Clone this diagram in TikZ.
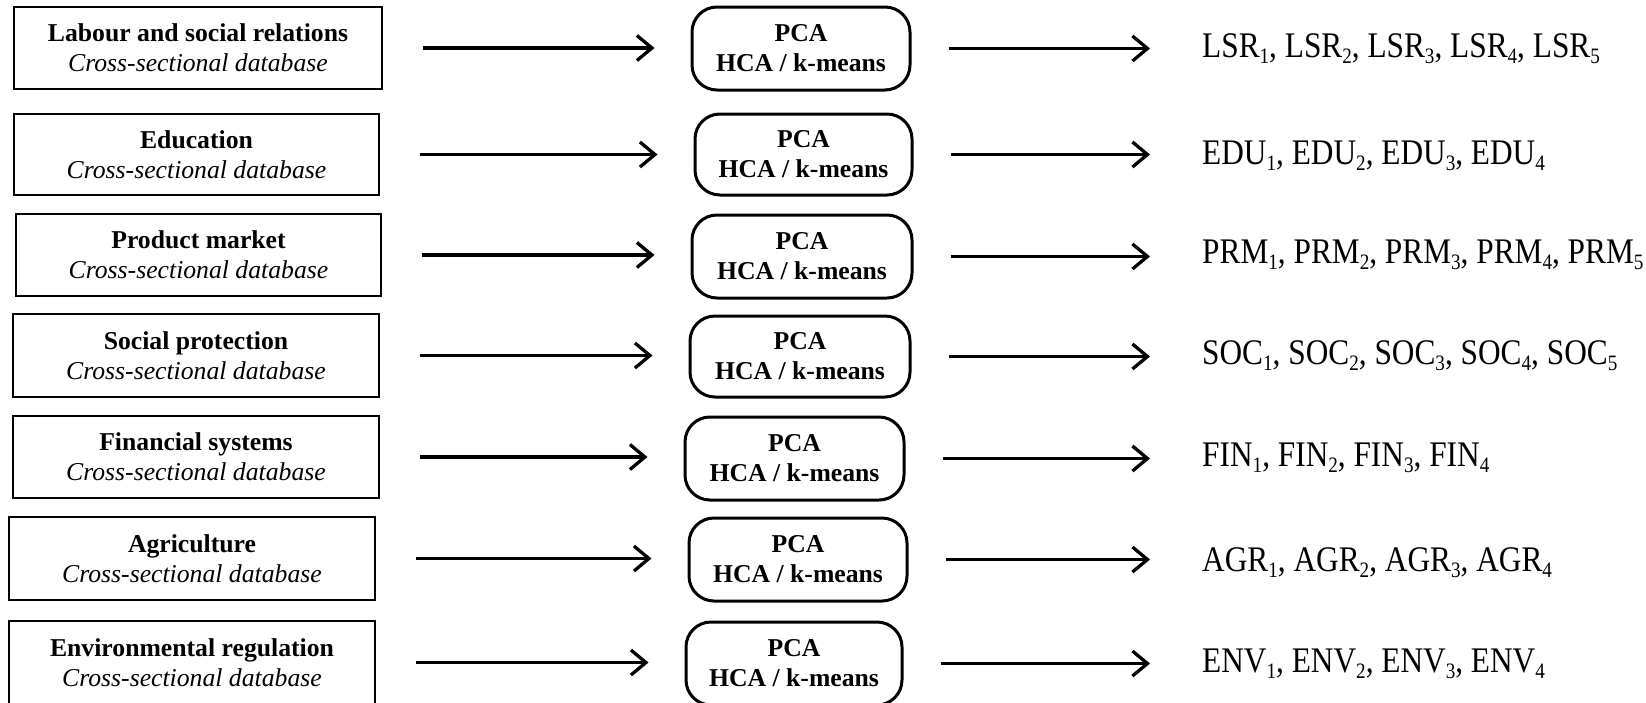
\documentclass[tikz,border=0pt]{standalone}
\usepackage{fontspec}
\setmainfont{Liberation Serif}
\newfontfamily\narrowserif[FakeStretch=0.87]{Liberation Serif}
\usetikzlibrary{arrows.meta}

% subscript index for the factor labels
\newcommand\sbx[1]{\raisebox{-6pt}{\fontsize{22}{22}\selectfont #1}}

\begin{document}
\begin{tikzpicture}[x=1pt,y=-1pt,
  srcbox/.style={draw, line width=2.5pt, rectangle, inner sep=0pt, align=center,
    font=\fontsize{25.7}{30}\selectfont},
  methbox/.style={draw, line width=3pt, rectangle, rounded corners=25pt, inner sep=0pt,
    align=center, font=\fontsize{25.7}{30}\selectfont\bfseries},
  outtxt/.style={inner sep=0pt, anchor=base west, font=\fontsize{36}{40}\narrowserif},
  arr/.style={line width=3.3pt, -{Straight Barb[length=15pt,width=25pt]}}
]
\useasboundingbox (0,0) rectangle (1646,702);

% data sources
\node[srcbox, minimum width=368pt, minimum height=82pt] (L1) at (198,48)
  {\textbf{Labour and social relations}\\\textit{Cross-sectional database}};
\node[srcbox, minimum width=365pt, minimum height=81pt] (L2) at (196.5,154.5)
  {\textbf{Education}\\\textit{Cross-sectional database}};
\node[srcbox, minimum width=365pt, minimum height=82pt] (L3) at (198.5,255)
  {\textbf{Product market}\\\textit{Cross-sectional database}};
\node[srcbox, minimum width=366pt, minimum height=83pt] (L4) at (196,355.5)
  {\textbf{Social protection}\\\textit{Cross-sectional database}};
\node[srcbox, minimum width=366pt, minimum height=82pt] (L5) at (196,457)
  {\textbf{Financial systems}\\\textit{Cross-sectional database}};
\node[srcbox, minimum width=366pt, minimum height=83pt] (L6) at (192,558.5)
  {\textbf{Agriculture}\\\textit{Cross-sectional database}};
\node[srcbox, minimum width=366pt, minimum height=83pt] (L7) at (192,662.5)
  {\textbf{Environmental regulation}\\\textit{Cross-sectional database}};

% analysis steps
\node[methbox, minimum width=218pt, minimum height=83pt] (P1) at (801,48.5) {PCA\\HCA / k-means};
\node[methbox, minimum width=217pt, minimum height=81pt] (P2) at (803.5,154.5) {PCA\\HCA / k-means};
\node[methbox, minimum width=220pt, minimum height=83pt] (P3) at (802,256.5) {PCA\\HCA / k-means};
\node[methbox, minimum width=220pt, minimum height=81pt] (P4) at (800,356.5) {PCA\\HCA / k-means};
\node[methbox, minimum width=219pt, minimum height=83pt] (P5) at (794.5,458.5) {PCA\\HCA / k-means};
\node[methbox, minimum width=218pt, minimum height=83pt] (P6) at (798,559.5) {PCA\\HCA / k-means};
\node[methbox, minimum width=216pt, minimum height=83pt] (P7) at (794,663.5) {PCA\\HCA / k-means};

% resulting factors
\node[outtxt] (O1) at (1202,57) {LSR\sbx{1}, LSR\sbx{2}, LSR\sbx{3}, LSR\sbx{4}, LSR\sbx{5}};
\node[outtxt] (O2) at (1202,164) {EDU\sbx{1}, EDU\sbx{2}, EDU\sbx{3}, EDU\sbx{4}};
\node[outtxt] (O3) at (1202,263) {PRM\sbx{1}, PRM\sbx{2}, PRM\sbx{3}, PRM\sbx{4}, PRM\sbx{5}};
\node[outtxt] (O4) at (1202,364) {SOC\sbx{1}, SOC\sbx{2}, SOC\sbx{3}, SOC\sbx{4}, SOC\sbx{5}};
\node[outtxt] (O5) at (1202,466) {FIN\sbx{1}, FIN\sbx{2}, FIN\sbx{3}, FIN\sbx{4}};
\node[outtxt] (O6) at (1202,571) {AGR\sbx{1}, AGR\sbx{2}, AGR\sbx{3}, AGR\sbx{4}};
\node[outtxt] (O7) at (1202,672) {ENV\sbx{1}, ENV\sbx{2}, ENV\sbx{3}, ENV\sbx{4}};

% connectors
\foreach \i in {1,...,7}{
  \draw[arr, shorten <=40pt, shorten >=36pt] (L\i.east) -- (L\i.east -| P\i.west);
  \draw[arr, shorten <=37pt, shorten >=52pt] (P\i.east) -- (P\i.east -| O\i.west);
}
\end{tikzpicture}
\end{document}
